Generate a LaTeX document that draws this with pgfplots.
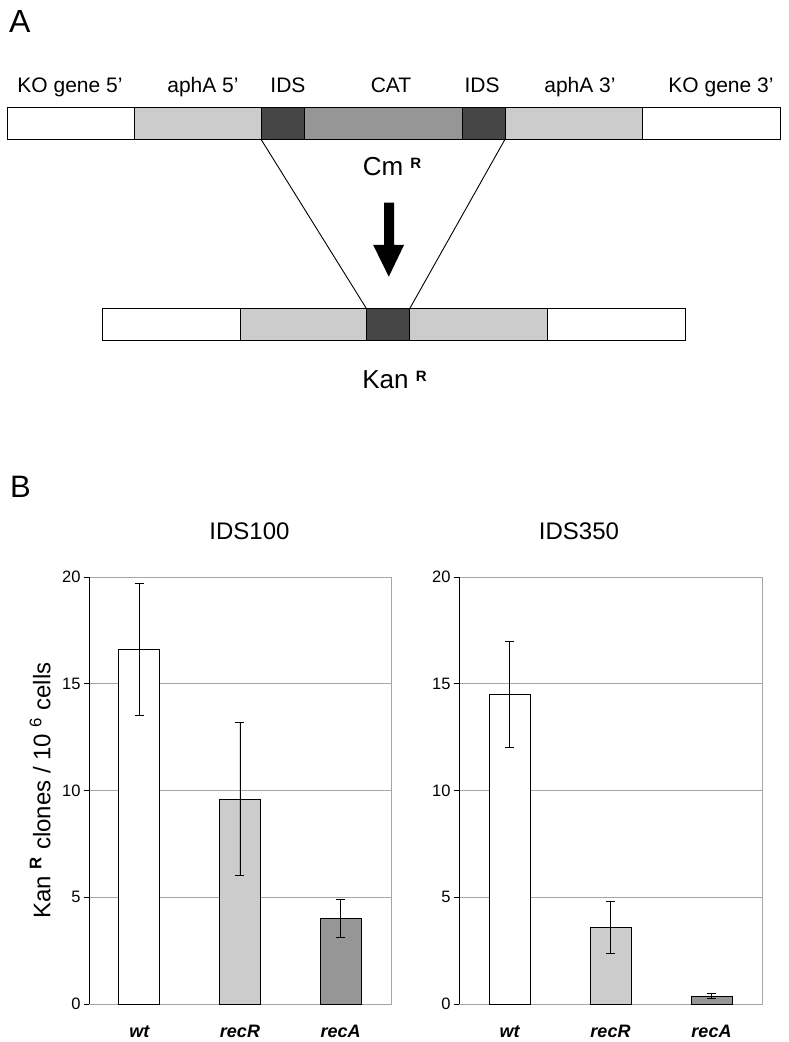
\documentclass[border=0pt]{standalone}
\usepackage{fontspec}
\setmainfont{Liberation Sans}
\usepackage{pgfplots}
\pgfplotsset{compat=1.18}

\newcommand{\fs}[1]{\fontsize{#1}{#1}\selectfont}
\definecolor{ltgray}{HTML}{CCCCCC}
\definecolor{mdgray}{HTML}{969696}
\definecolor{dkgray}{HTML}{464646}
\definecolor{gridgray}{HTML}{A6A6A6}

\pgfplotsset{
  panel/.style={
    scale only axis, width=302pt, height=427pt,
    xmin=-0.5, xmax=2.5, ymin=0, ymax=20,
    xtick={0,1,2}, xticklabels={wt,recR,recA},
    ytick={0,5,10,15,20}, yticklabels={0,5,10,15,20},
    ymajorgrids, grid style={draw=gridgray, line width=0.7pt},
    axis line style={draw=gridgray, line width=0.8pt},
    ytick pos=left, tick align=outside, major tick length=5pt,
    y tick style={black, line width=0.8pt},
    x tick style={draw=none},
    y tick label style={font=\fs{16.5}},
    x tick label style={font=\fs{18}\bfseries\itshape, anchor=base, yshift=-28.7pt},
  },
  bar/.style={ybar, bar width=41pt, bar shift=0pt, draw=black, line width=1pt,
    error bars/y dir=both, error bars/y explicit,
    error bars/error bar style={black, line width=0.8pt},
    error bars/error mark options={black, rotate=90, mark size=4.5pt, line width=0.8pt}},
}

\begin{document}
\begin{tikzpicture}
\path[use as bounding box] (0,0) rectangle (788pt,1042pt);

% panel A: construct diagram (pixel coordinates from the top)
\begin{scope}[x=1pt, y=-1pt, shift={(0pt,1042pt)}]
  \node[anchor=base west, font=\fs{32}, inner sep=0] at (9,33) {A};
  \foreach \xa/\xb/\c in {7.5/134.7/white, 134.7/261/ltgray, 261/304/dkgray, 304/462/mdgray,
                          462/505/dkgray, 505/642/ltgray, 642/780/white}
    \draw[fill=\c, line width=1pt] (\xa,107.3) rectangle (\xb,139.3);
  \foreach \xc/\t in {70/{KO gene 5’}, 203/{aphA 5’}, 288/IDS, 391/CAT, 482/IDS,
                      580/{aphA 3’}, 721/{KO gene 3’}}
    \node[anchor=base, font=\fs{21}, inner sep=0] at (\xc,93) {\t};
  \draw[line width=0.9pt] (261,139.3) -- (366.7,309);
  \draw[line width=0.9pt] (505,139.3) -- (409.5,309);
  \node[anchor=base, font=\fs{26}, inner sep=0] at (392,175.7)
    {Cm {\fs{15}\bfseries\raisebox{7pt}{R}}};
  \fill[black] (384,202.7) -- (394,202.7) -- (394,245) -- (404,245) -- (388.8,276.7)
    -- (373.2,245) -- (384,245) -- cycle;
  \foreach \xa/\xb/\c in {102.8/240/white, 240/366.7/ltgray, 366.7/409.5/dkgray,
                          409.5/547/ltgray, 547/685/white}
    \draw[fill=\c, line width=1pt] (\xa,309) rectangle (\xb,340.7);
  \node[anchor=base, font=\fs{26}, inner sep=0] at (394.5,388.3)
    {Kan {\fs{15}\bfseries\raisebox{7pt}{R}}};
  \node[anchor=base west, font=\fs{31}, inner sep=0] at (10,498) {B};
  \node[anchor=base, font=\fs{24}, inner sep=0] at (249.5,540) {IDS100};
  \node[anchor=base, font=\fs{24}, inner sep=0] at (579,540) {IDS350};
\end{scope}

% panel B, IDS100
\begin{axis}[panel, at={(89pt,38pt)}, anchor=south west,
  ylabel={Kan \textsuperscript{\bfseries R} clones / 10 \textsuperscript{6} cells},
  ylabel style={font=\fs{24}, at={(axis description cs:-0.162,0.5)}, anchor=center}]
  \addplot[bar, fill=white]  coordinates {(0,16.6) +- (0,3.1)};
  \addplot[bar, fill=ltgray] coordinates {(1,9.6) +- (0,3.6)};
  \addplot[bar, fill=mdgray] coordinates {(2,4.0) +- (0,0.9)};
  \draw[black, line width=0.8pt] (rel axis cs:0,0) -- (rel axis cs:0,1);
\end{axis}

% panel B, IDS350
\begin{axis}[panel, at={(459pt,38pt)}, anchor=south west, width=303pt]
  \addplot[bar, fill=white]  coordinates {(0,14.5) +- (0,2.5)};
  \addplot[bar, fill=ltgray] coordinates {(1,3.6) +- (0,1.22)};
  \addplot[bar, fill=mdgray] coordinates {(2,0.37) +- (0,0.12)};
  \draw[black, line width=0.8pt] (rel axis cs:0,0) -- (rel axis cs:0,1);
\end{axis}
\end{tikzpicture}
\end{document}
